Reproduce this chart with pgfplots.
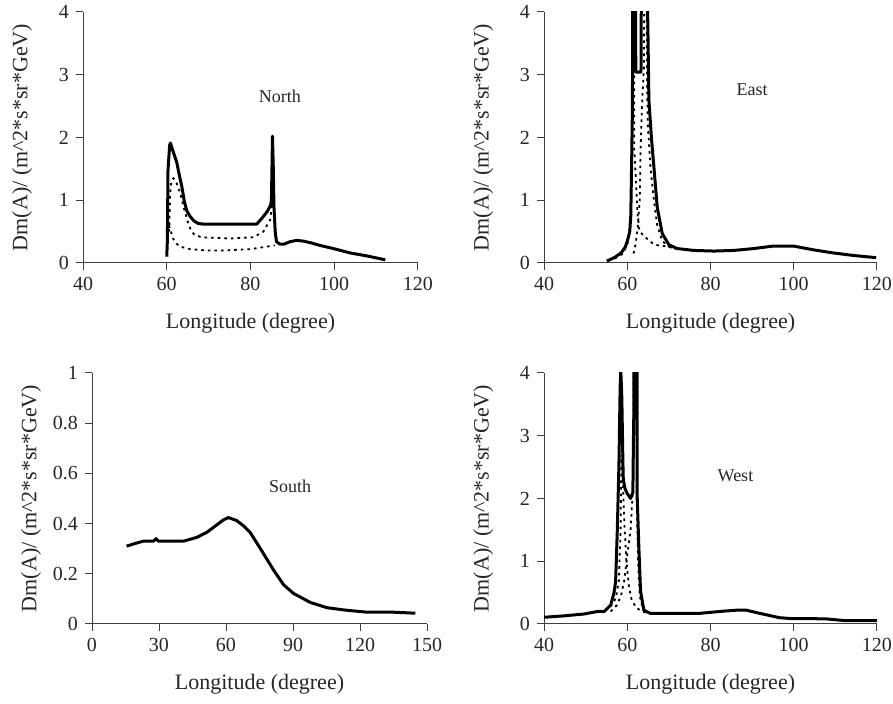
\documentclass[border=0pt]{standalone}
\usepackage{pgfplots}
\pgfplotsset{compat=1.18}
\usepackage{fontspec}
\setmainfont{Liberation Serif}
\tikzset{ttl/.style={font=\fontsize{9}{11}\selectfont, text=black!85}}
\pgfplotsset{
  panel/.style={
    scale only axis, width=167.5pt, height=125.5pt,
    axis x line*=bottom, axis y line*=left,
    axis line style={-, draw=black!75, line width=0.5pt},
    tick style={draw=black!75, line width=0.5pt},
    tick align=outside, major tick length=3.5pt,
    tick label style={font=\fontsize{10}{12}\selectfont, text=black!85},
    label style={font=\fontsize{11}{13}\selectfont, text=black!85},
    xlabel={Longitude (degree)},
    ylabel={Dm(A)/ (m\textasciicircum 2*s*sr*GeV)},
    xlabel style={at={(axis description cs:0.5,-0.239)}, anchor=center},
    ylabel style={at={(axis description cs:-0.182,0.5)}, anchor=center},
    /pgf/number format/assume math mode=true,
    clip=true,
  },
  sol/.style={black, line width=1.5pt, line join=round},
  dot/.style={black, line width=0.9pt, dash pattern=on 1.3pt off 2pt},
}
\begin{document}
\begin{tikzpicture}
\path[use as bounding box] (0,0) rectangle (446.5pt,352pt);
% North
\begin{axis}[panel, at={(41.5pt,220.5pt)}, anchor=south west,
  xmin=40, xmax=120, ymin=0, ymax=4, xtick={40,60,80,100,120}, ytick={0,1,2,3,4}]
\addplot[sol] coordinates {(60.0,0.10)(60.15,0.36)(60.3,1.48)(60.7,1.88)(60.9,1.91)(61.3,1.82)(61.8,1.72)(62.4,1.6)(63.0,1.4)(63.6,1.22)(64.2,0.98)(64.8,0.83)(65.6,0.74)(66.5,0.67)(67.5,0.63)(68.7,0.62)(75,0.62)(81.5,0.62)(82.7,0.71)(84.0,0.82)(84.8,0.92)(85.0,1.0)(85.15,1.6)(85.25,2.02)(85.45,1.5)(85.6,0.9)(85.9,0.5)(86.2,0.34)(87,0.3)(88,0.3)(89.5,0.34)(91,0.36)(92.5,0.35)(94.5,0.32)(96.6,0.28)(99.8,0.23)(103.8,0.16)(108,0.11)(112.2,0.05)};
\addplot[dot] coordinates {(60.6,0.5)(60.8,1.1)(61.1,1.3)(61.6,1.35)(62.2,1.3)(63.2,1.12)(64.2,0.85)(65.1,0.64)(65.8,0.52)(66.6,0.45)(68.3,0.41)(75,0.39)(80.7,0.41)(83.1,0.5)(84.7,0.69)(85.2,0.95)};
\addplot[dot] coordinates {(60.5,0.6)(61.0,0.5)(61.5,0.39)(62.3,0.31)(63.2,0.26)(65.6,0.22)(69.5,0.2)(73.5,0.2)(79.9,0.22)(85.8,0.28)};
\node[ttl] at (axis cs:87,2.66) {North};
\end{axis}
% East
\begin{axis}[panel, width=166.5pt, at={(272pt,220.5pt)}, anchor=south west,
  xmin=40, xmax=120, ymin=0, ymax=4, xtick={40,60,80,100,120}, ytick={0,1,2,3,4}]
\addplot[sol] coordinates {(55.1,0.03)(57,0.09)(58.5,0.16)(59.5,0.25)(60.1,0.37)(60.6,0.5)(60.85,0.75)(61.1,1.8)(61.25,2.5)(61.35,6)(61.95,6)(62.05,3.04)(63.3,3.04)(63.5,6)(64.75,6)(64.9,4.0)(65.2,2.6)(65.8,2.0)(66.4,1.53)(67.2,0.89)(68.4,0.47)(70,0.29)(72,0.23)(76,0.2)(80.8,0.19)(85.6,0.2)(90.4,0.23)(95.1,0.27)(99.9,0.27)(104.7,0.21)(109.5,0.16)(114.3,0.12)(119.8,0.085)};
\addplot[dot] coordinates {(57,0.07)(59,0.15)(60.3,0.35)(60.9,0.9)(61.2,2.5)(61.35,6)(61.55,6)(61.65,3.0)(61.7,1.8)(62.1,1.3)(62.45,0.8)(62.9,0.52)(63.7,0.45)(64.9,0.38)(66.5,0.29)(68.8,0.27)(72,0.23)};
\addplot[dot] coordinates {(61.5,0.15)(62.0,0.3)(62.5,0.55)(63.0,1.0)(63.2,1.8)(63.6,2.6)(64.0,3.1)(64.2,6)(64.55,6)(64.75,2.9)(64.95,2.2)(65.6,1.5)(66.4,1.0)(67.2,0.6)(68.4,0.35)(70,0.26)(72,0.22)};
\node[ttl] at (axis cs:90,2.76) {East};
\end{axis}
% South
\begin{axis}[panel, at={(46pt,40pt)}, anchor=south west,
  xmin=0, xmax=150, ymin=0, ymax=1, xtick={0,30,60,90,120,150}, ytick={0,0.2,0.4,0.6,0.8,1},
  yticklabel style={/pgf/number format/fixed}]
\addplot[sol] coordinates {(15.5,0.31)(19,0.32)(23,0.33)(27.5,0.33)(28.7,0.34)(29.7,0.33)(35,0.33)(41,0.33)(46.9,0.345)(51.4,0.365)(55.9,0.395)(58.9,0.415)(61.1,0.424)(64.8,0.412)(68,0.39)(70.8,0.365)(74,0.32)(76.8,0.28)(81.3,0.215)(85.8,0.156)(90.2,0.122)(97.7,0.086)(105.2,0.065)(112.7,0.056)(123.1,0.047)(135,0.047)(144.8,0.043)};
\node[ttl] at (axis cs:88.7,0.55) {South};
\end{axis}
% West
\begin{axis}[panel, width=166.5pt, at={(272pt,40pt)}, anchor=south west,
  xmin=40, xmax=120, ymin=0, ymax=4, xtick={40,60,80,100,120}, ytick={0,1,2,3,4}]
\addplot[sol] coordinates {(39.8,0.106)(44.9,0.13)(49.7,0.16)(52.9,0.2)(54.5,0.2)(56.0,0.3)(56.8,0.49)(57.2,0.67)(57.6,1.47)(58.0,2.53)(58.3,3.8)(58.45,4.05)(58.7,3.6)(58.95,2.6)(59.05,2.3)(59.5,2.15)(60,2.08)(60.8,2.0)(61.35,2.1)(61.5,3.0)(61.6,3.44)(61.65,6)(62.35,6)(62.4,2.0)(62.8,1.2)(63.2,0.52)(64.0,0.22)(65.5,0.17)(66.4,0.17)(72.7,0.17)(77.5,0.17)(82.3,0.2)(86.2,0.22)(88.6,0.22)(91.8,0.17)(96.6,0.1)(99.7,0.085)(104.5,0.085)(108,0.08)(112.4,0.053)(120,0.053)};
\addplot[dot] coordinates {(50,0.17)(54,0.2)(55.5,0.25)(56.5,0.32)(57.3,0.42)(58.0,0.7)(58.4,1.5)(58.6,2.7)(58.9,2.4)(59.3,1.6)(59.8,1.0)(60.4,0.6)(61,0.4)(62,0.27)(63.5,0.2)(65,0.17)};
\addplot[dot] coordinates {(56,0.2)(57.5,0.3)(58.5,0.45)(59.3,0.7)(60.0,1.1)(60.8,1.5)(61.4,2.2)(61.7,6)(62.1,6)(62.3,2.0)(62.6,1.0)(63,0.45)(63.8,0.22)(65,0.17)};
\node[ttl] at (axis cs:86,2.36) {West};
\end{axis}
\end{tikzpicture}
\end{document}
